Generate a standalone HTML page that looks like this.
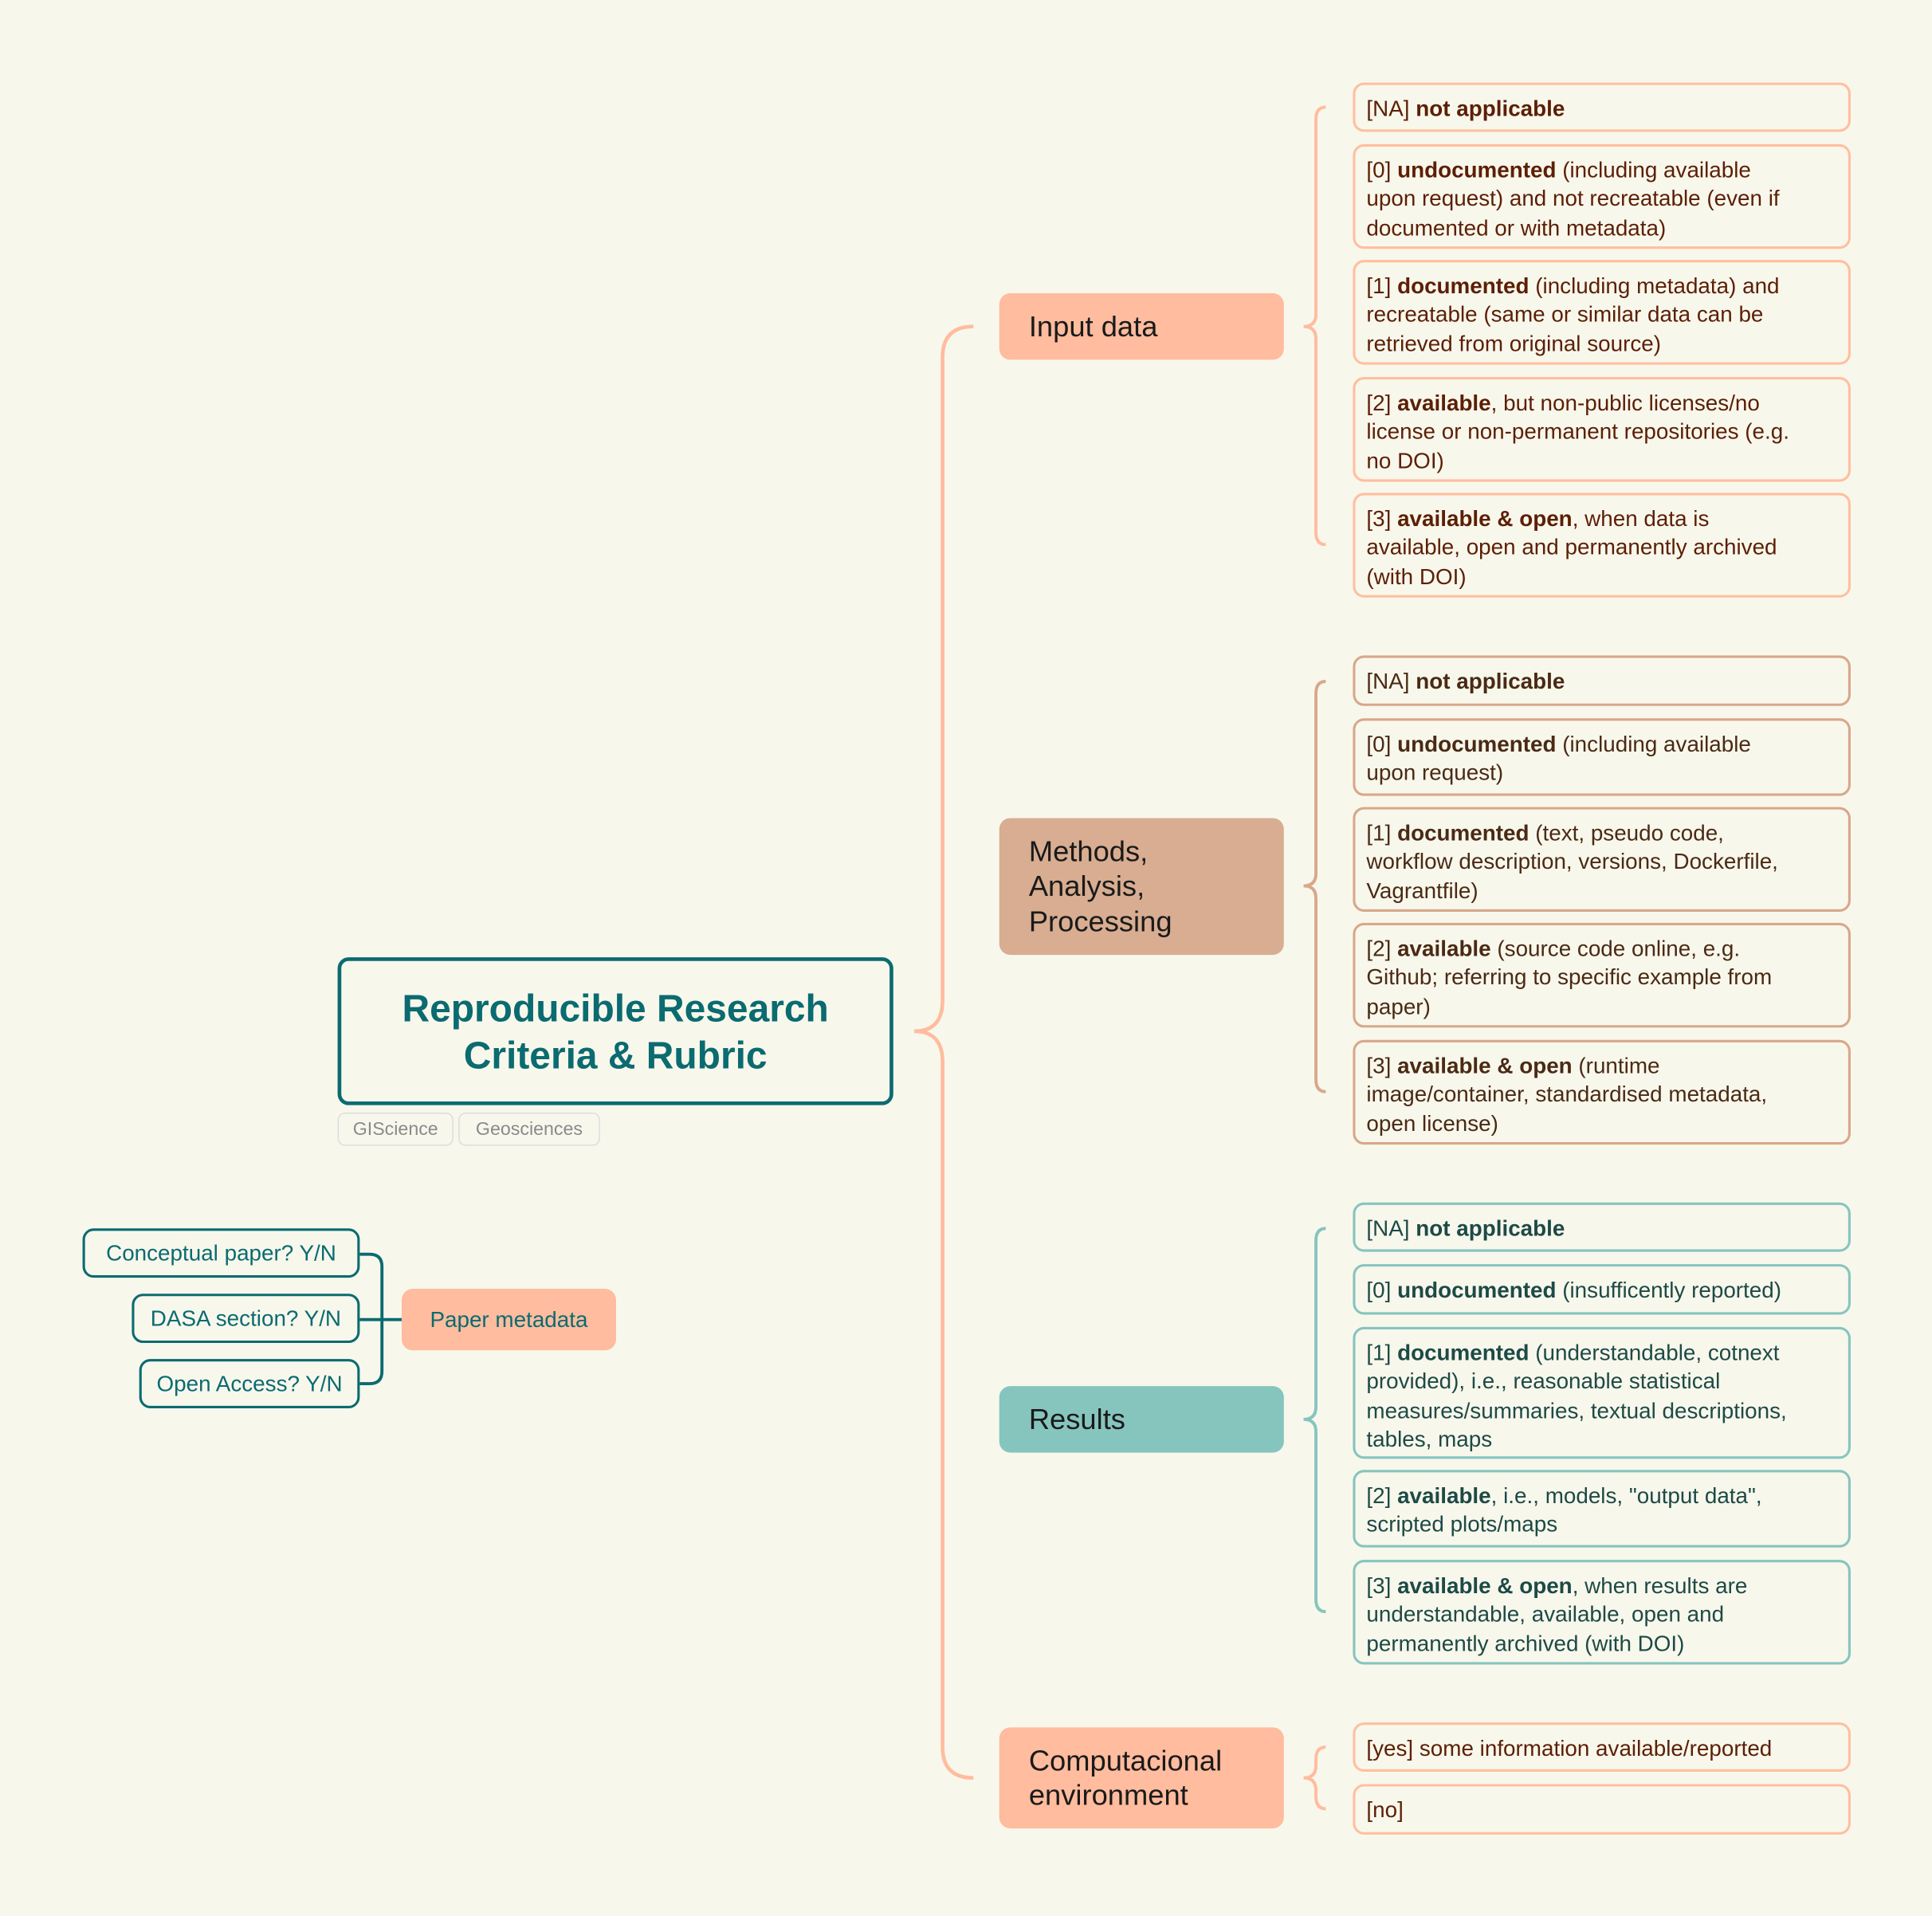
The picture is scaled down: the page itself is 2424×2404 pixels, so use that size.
<!DOCTYPE html>
<html><head><meta charset="utf-8"><style>
html,body{margin:0;padding:0;background:#f8f7ec;}
#w{width:2424px;height:2404px;overflow:hidden;position:relative;background:#f8f7ec}
#c{position:absolute;left:0;top:0;width:1568px;height:1555px;transform:scale(1.5459);transform-origin:0 0;font-family:"Liberation Sans",sans-serif;}
.b{position:absolute;box-sizing:border-box;}
.leaf{left:1098px;width:404px;border:2.5px solid;border-radius:9px;padding:8px 0 0 9px;font-size:18px;line-height:23.3px;white-space:nowrap;}
.in{border-color:#ffbf9f;color:#5c1f05}
.me{border-color:#d7a88a;color:#4a2a14}
.re{border-color:#86c5be;color:#1d4a46}
.cat{left:811px;width:231px;border-radius:9px;font-size:23.5px;line-height:28.5px;padding-left:24px;display:flex;align-items:center;color:#1a1a1a}
.sm{position:absolute;box-sizing:border-box;border:2.5px solid #0a6b70;border-radius:9px;color:#0a6b70;font-size:18px;display:flex;align-items:center;justify-content:center;height:40px;}
.tag{position:absolute;top:903px;height:27px;border:1px solid #ddd;border-radius:6px;color:#8a8a8a;font-size:15px;display:flex;align-items:center;justify-content:center;box-sizing:border-box}
</style></head><body><div id="w"><div id="c">
<svg width="1568" height="1555" style="position:absolute;left:0;top:0" fill="none">
<path d="M742 837 Q765 837 765 812 L765 290 Q765 265 790 265 M742 837 Q765 837 765 862 L765 1418 Q765 1443 790 1443" stroke="#ffbc9e" stroke-width="3"/>
<path d="M1076 87 Q1068 87 1068 97 L1068 255 Q1068 265 1058 265 Q1068 265 1068 275 L1068 432 Q1068 442 1076 442" stroke="#ffbc9e" stroke-width="2.5"/>
<path d="M1076 553 Q1068 553 1068 563 L1068 709 Q1068 719 1058 719 Q1068 719 1068 729 L1068 876 Q1068 886 1076 886" stroke="#d7a88a" stroke-width="2.5"/>
<path d="M1076 997 Q1068 997 1068 1007 L1068 1142 Q1068 1152 1058 1152 Q1068 1152 1068 1162 L1068 1298 Q1068 1308 1076 1308" stroke="#86c5be" stroke-width="2.5"/>
<path d="M1076 1418 Q1068 1418 1068 1428 L1068 1433 Q1068 1443 1058 1443 Q1068 1443 1068 1453 L1068 1458 Q1068 1468 1076 1468" stroke="#ffbc9e" stroke-width="2.5"/>
<path d="M292 1018 L300 1018 Q310 1018 310 1028 L310 1113 Q310 1123 300 1123 L292 1123 M292 1071 L326 1071" stroke="#0a6b70" stroke-width="2.5"/>
</svg>

<div class="b" style="left:274px;top:777px;width:451px;height:120px;border:3.5px solid #0a6b70;border-radius:9px;color:#0a6b70;font-size:31px;font-weight:bold;text-align:center;line-height:38px;padding-top:20px">Reproducible Research<br>Criteria &amp; Rubric</div>
<div class="tag" style="left:274px;width:94px">GIScience</div>
<div class="tag" style="left:372px;width:115px">Geosciences</div>

<div class="sm" style="left:67px;top:997px;width:225px">Conceptual paper? Y/N</div>
<div class="sm" style="left:107px;top:1050px;width:185px">DASA section? Y/N</div>
<div class="sm" style="left:113px;top:1103px;width:179px">Open Access? Y/N</div>
<div class="b" style="left:326px;top:1046px;width:174px;height:50px;background:#ffbc9e;border-radius:9px;color:#0a6b70;font-size:18px;display:flex;align-items:center;justify-content:center">Paper metadata</div>

<div class="b cat" style="top:238px;height:54px;background:#ffbc9e">Input data</div>
<div class="b cat" style="top:664px;height:111px;background:#d8ad91">Methods,<br>Analysis,<br>Processing</div>
<div class="b cat" style="top:1125px;height:54px;background:#86c5be">Results</div>
<div class="b cat" style="top:1402px;height:82px;background:#ffbc9e">Computacional<br>environment</div>

<div class="b leaf in" style="top:67px;height:40px">[NA] <b>not applicable</b></div>
<div class="b leaf in" style="top:117px;height:85px">[0] <b>undocumented</b> (including available<br>upon request) and not recreatable (even if<br>documented or with metadata)</div>
<div class="b leaf in" style="top:211px;height:85px">[1] <b>documented</b> (including metadata) and<br>recreatable (same or similar data can be<br>retrieved from original source)</div>
<div class="b leaf in" style="top:306px;height:85px">[2] <b>available</b>, but non-public licenses/no<br>license or non-permanent repositories (e.g.<br>no DOI)</div>
<div class="b leaf in" style="top:400px;height:85px">[3] <b>available &amp; open</b>, when data is<br>available, open and permanently archived<br>(with DOI)</div>

<div class="b leaf me" style="top:532px;height:41px">[NA] <b>not applicable</b></div>
<div class="b leaf me" style="top:583px;height:63px">[0] <b>undocumented</b> (including available<br>upon request)</div>
<div class="b leaf me" style="top:655px;height:85px">[1] <b>documented</b> (text, pseudo code,<br>workflow description, versions, Dockerfile,<br>Vagrantfile)</div>
<div class="b leaf me" style="top:749px;height:85px">[2] <b>available</b> (source code online, e.g.<br>Github; referring to specific example from<br>paper)</div>
<div class="b leaf me" style="top:844px;height:85px">[3] <b>available &amp; open</b> (runtime<br>image/container, standardised metadata,<br>open license)</div>

<div class="b leaf re" style="top:976px;height:40px">[NA] <b>not applicable</b></div>
<div class="b leaf re" style="top:1026px;height:41px">[0] <b>undocumented</b> (insufficently reported)</div>
<div class="b leaf re" style="top:1077px;height:107px">[1] <b>documented</b> (understandable, cotnext<br>provided), i.e., reasonable statistical<br>measures/summaries, textual descriptions,<br>tables, maps</div>
<div class="b leaf re" style="top:1193px;height:63px">[2] <b>available</b>, i.e., models, "output data",<br>scripted plots/maps</div>
<div class="b leaf re" style="top:1266px;height:85px">[3] <b>available &amp; open</b>, when results are<br>understandable, available, open and<br>permanently archived (with DOI)</div>

<div class="b leaf in" style="top:1398px;height:40px">[yes] some information available/reported</div>
<div class="b leaf in" style="top:1448px;height:41px">[no]</div>
</div></div></body></html>
